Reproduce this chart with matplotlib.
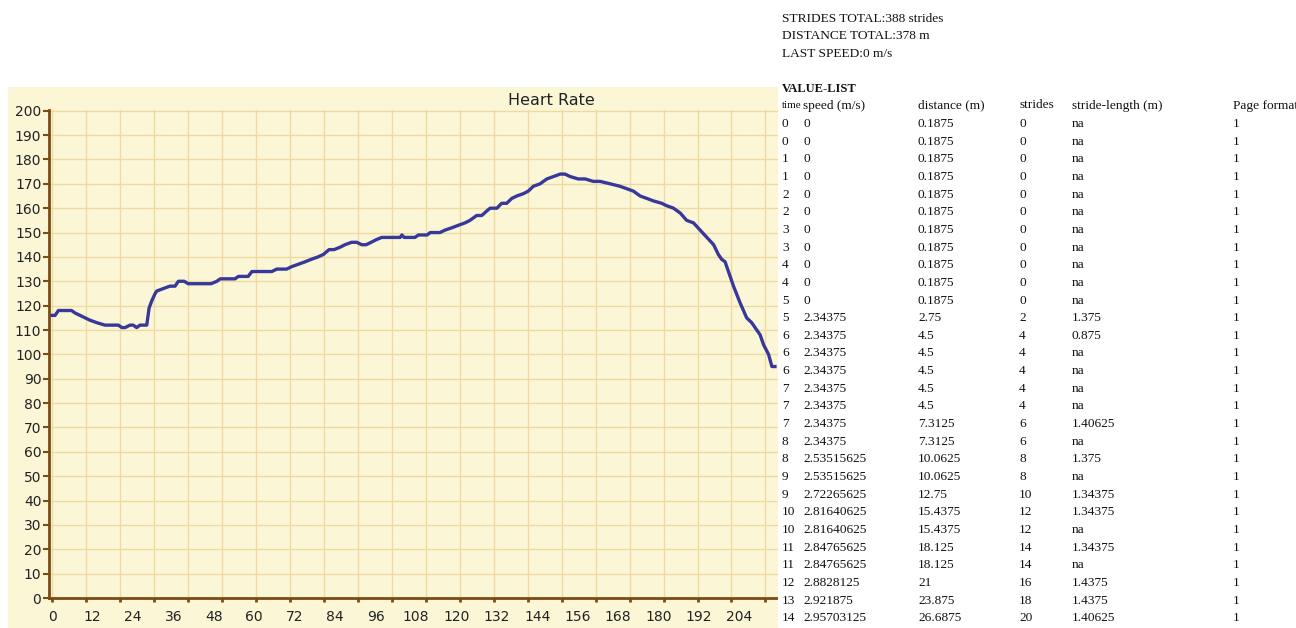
import numpy as np
import matplotlib.pyplot as plt
from matplotlib.patches import Rectangle
from matplotlib.ticker import FixedLocator, NullFormatter

# heart rate trace (x in axis-label units, bpm)
hr_time = [0.0, 0.9, 1.9, 5.8, 6.8, 8.3, 9.8, 11.3, 13.3, 15.7, 19.7, 20.7, 21.7,
           23.1, 24.1, 25.1, 26.1, 28.1, 28.8, 29.6, 30.6, 31.1, 33.0, 35.0, 36.5,
           37.5, 39.2, 40.4, 47.2, 48.9, 49.9, 54.3, 55.3, 58.2, 59.3, 65.2, 66.7,
           69.6, 71.1, 73.1, 75.1, 76.9, 78.9, 80.5, 82.2, 83.7, 85.5, 86.9, 88.9,
           90.4, 91.9, 93.2, 94.7, 96.1, 97.8, 103.3, 103.8, 104.5, 107.7, 108.7,
           111.3, 112.2, 115.1, 116.6, 118.7, 120.6, 122.6, 124.0, 126.0, 127.5,
           129.1, 130.0, 132.0, 133.4, 134.9, 136.4, 137.9, 139.9, 141.3, 142.8,
           144.8, 146.8, 148.8, 150.8, 152.2, 153.7, 156.1, 158.2, 160.6, 162.6,
           165.6, 168.5, 170.5, 172.5, 174.5, 176.5, 178.4, 180.9, 182.4, 184.4,
           186.4, 188.3, 190.3, 192.3, 194.3, 196.3, 197.7, 198.7, 199.7, 200.7,
           202.2, 204.2, 206.1, 207.6, 208.6, 210.1, 211.1, 212.6, 213.6, 214.5]
hr_bpm = [116, 116, 118, 118, 117, 116, 115, 114, 113, 112, 112, 111, 111,
          112, 112, 111, 112, 112, 119, 122, 125, 126, 127, 128, 128,
          130, 130, 129, 129, 130, 131, 131, 132, 132, 134, 134, 135,
          135, 136, 137, 138, 139, 140, 141, 143, 143, 144, 145, 146,
          146, 145, 145, 146, 147, 148, 148, 149, 148, 148, 149,
          149, 150, 150, 151, 152, 153, 154, 155, 157, 157,
          159, 160, 160, 162, 162, 164, 165, 166, 167, 169,
          170, 172, 173, 174, 174, 173, 172, 172, 171, 171,
          170, 169, 168, 167, 165, 164, 163, 162, 161, 160,
          158, 155, 154, 151, 148, 145, 141, 139, 138, 134,
          128, 121, 115, 113, 111, 108, 104, 100, 95, 95]

x_labels = list(range(0, 217, 12))
y_ticks = list(range(0, 201, 10))

summary_lines = ["STRIDES TOTAL:388 strides", "DISTANCE TOTAL:378 m", "LAST SPEED:0 m/s"]
columns = ["time", "speed (m/s)", "distance (m)", "strides", "stride-length (m)", "Page format"]
time_col = ["0", "0", "1", "1", "2", "2", "3", "3", "4", "4", "5", "5", "6", "6", "6",
            "7", "7", "7", "8", "8", "9", "9", "10", "10", "11", "11", "12", "13", "14"]
speed_col = ["0"] * 11 + ["2.34375"] * 8 + ["2.53515625", "2.53515625", "2.72265625",
             "2.81640625", "2.81640625", "2.84765625", "2.84765625", "2.8828125",
             "2.921875", "2.95703125"]
distance_col = ["0.1875"] * 11 + ["2.75", "4.5", "4.5", "4.5", "4.5", "4.5", "7.3125",
                "7.3125", "10.0625", "10.0625", "12.75", "15.4375", "15.4375",
                "18.125", "18.125", "21", "23.875", "26.6875"]
strides_col = ["0"] * 11 + ["2", "4", "4", "4", "4", "4", "6", "6", "8", "8", "10",
               "12", "12", "14", "14", "16", "18", "20"]
stride_len_col = ["na"] * 11 + ["1.375", "0.875", "na", "na", "na", "na", "1.40625",
                  "na", "1.375", "na", "1.34375", "1.34375", "na", "1.34375", "na",
                  "1.4375", "1.4375", "1.40625"]
page_col = ["1"] * len(time_col)

W, H = 1296, 628
bg = "#fbf7d6"
grid_c = "#eed9a0"
brown = "#7a4b14"
ink = "#222222"


def fx(px):
    return px / W


def fy(py):
    return 1 - py / H


fig = plt.figure(figsize=(W / 100, H / 100), dpi=100)
fig.patch.set_facecolor("white")

# yellow chart panel behind the axes
fig.patches.append(Rectangle((fx(8), 0), fx(778) - fx(8), fy(87), transform=fig.transFigure,
                             facecolor=bg, edgecolor="none", zorder=-1))

ax = fig.add_axes([fx(49), fy(598), fx(778) - fx(49), fy(110) - fy(598)])
ax.set_facecolor(bg)
ax.plot(hr_time, hr_bpm, color="#38389c", lw=2.4, solid_joinstyle="round", zorder=3)
ax.set_xlim(-0.9, 215.4)
ax.set_ylim(0, 200.3)

# grid / tick marks do not line up with the labels in the original chart
ax.xaxis.remove_overlapping_locs = False
ax.xaxis.set_major_locator(FixedLocator(np.arange(0, 216, 10.08)))
ax.xaxis.set_major_formatter(NullFormatter())
ax.xaxis.set_minor_locator(FixedLocator(x_labels))
ax.set_xticklabels([str(v) for v in x_labels], minor=True)
ax.tick_params(axis="x", which="minor", length=0, pad=8.5, labelsize=10, labelcolor=ink)
ax.tick_params(axis="x", which="major", length=3, width=2, color=brown, direction="out")

ax.set_yticks(y_ticks)
ax.tick_params(axis="y", length=4, width=1.5, color=brown, pad=1.5, labelsize=10, labelcolor=ink)

ax.grid(True, which="major", color=grid_c, lw=1)
ax.set_axisbelow(True)
for side in ["top", "right"]:
    ax.spines[side].set_visible(False)
for side in ["left", "bottom"]:
    ax.spines[side].set_color(brown)
    ax.spines[side].set_linewidth(2)

fig.text(fx(551), fy(105), "Heart Rate", ha="center", va="baseline", fontsize=11.5, color=ink)

# white page area of the value list covers the chart's right edge
fig.patches.append(Rectangle((fx(778), 0), 1 - fx(778), 1, transform=fig.transFigure,
                             facecolor="white", edgecolor="none", zorder=1))

serif = "Liberation Serif"
fs = 9.6
for i, line in enumerate(summary_lines):
    fig.text(fx(782), fy(21.7 + i * 17.5), line, family=serif, fontsize=fs, color="#111", va="baseline")
fig.text(fx(782), fy(91.7), "VALUE-LIST", family=serif, fontsize=9, fontweight="bold",
         color="#111", va="baseline")

col_x = [782, 803, 918, 1019, 1072, 1233]
for cx, name in zip(col_x, columns):
    # the narrow "time" header sits tight against the speed column
    size = 8 if name == "time" else fs
    fig.text(fx(cx), fy(108.5), name, family=serif, fontsize=size, color="#111", va="baseline")

table_cols = [time_col, speed_col, distance_col, strides_col, stride_len_col, page_col]
for r in range(len(time_col)):
    yb = 127 + r * 17.65
    for cx, col in zip(col_x, table_cols):
        fig.text(fx(cx), fy(yb), col[r], family=serif, fontsize=fs, color="#111", va="baseline")

fig.savefig("out.png", dpi=100, facecolor="white")
